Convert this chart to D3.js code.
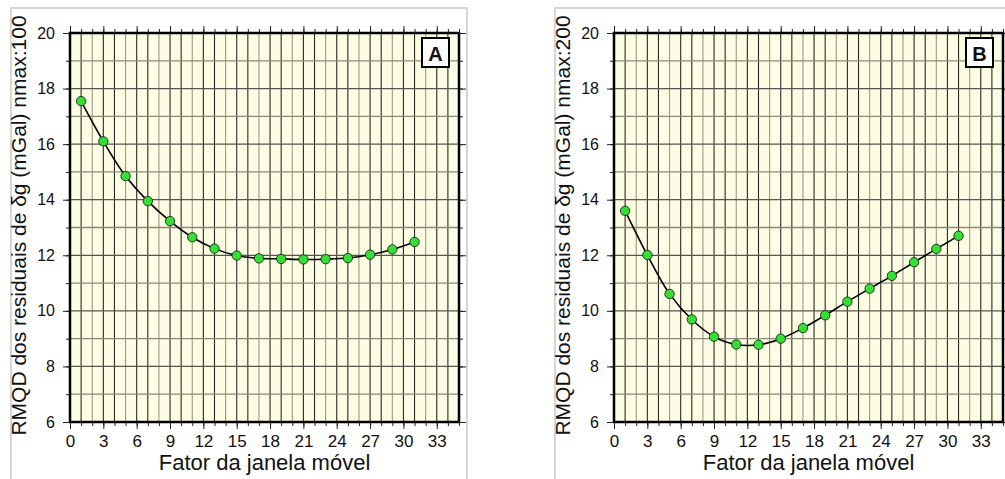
<!DOCTYPE html>
<html>
<head>
<meta charset="utf-8">
<script src="https://cdn.jsdelivr.net/npm/d3@7"></script>
<style>
body { margin: 0; background: #fff; }
text { font-family: "Liberation Sans", Arial, sans-serif; fill: #111; }
</style>
</head>
<body>
<div id="chart"></div>
<script>
var windowFactor = [1, 3, 5, 7, 9, 11, 13, 15, 17, 19, 21, 23, 25, 27, 29, 31]
var rmsA = [17.55, 16.1, 14.85, 13.95, 13.23, 12.65, 12.24, 11.99, 11.89, 11.87, 11.85, 11.86, 11.9, 12.02, 12.21, 12.48]
var rmsB = [13.6, 12.01, 10.61, 9.69, 9.07, 8.79, 8.78, 9.0, 9.38, 9.84, 10.33, 10.8, 11.26, 11.75, 12.23, 12.7]
var xTicks = [0, 3, 6, 9, 12, 15, 18, 21, 24, 27, 30, 33]
var yTicks = [6, 8, 10, 12, 14, 16, 18, 20]
var yTitles = ["RMQD dos residuais de \u03b4g (mGal) nmax:100", "RMQD dos residuais de \u03b4g (mGal) nmax:200"]
var panelLetters = ["A", "B"]
var xTitle = "Fator da janela m\u00f3vel"

var width = 1005,
height = 479,
panelLeft = [11, 555],
panelWidth = 456,
plotOffset = 59,
plotWidth = 389,
plotTop = 33,
plotBottom = 422

var svg = d3.select("#chart").append("svg")
.attr("width", width)
.attr("height", height)

var yScale = d3.scaleLinear().domain([6, 20]).range([plotBottom, plotTop])

var line = d3.line()
.curve(d3.curveCatmullRom.alpha(0.5))

var series = [rmsA, rmsB]

series.forEach(function(values, p) {
  var px = panelLeft[p]
  var x0 = px + plotOffset
  var xScale = d3.scaleLinear().domain([0, 35]).range([x0, x0 + plotWidth])

  var g = svg.append("g").attr("class", "panel")

  g.append("rect")
  .attr("x", px)
  .attr("y", 8)
  .attr("width", panelWidth)
  .attr("height", 475)
  .attr("fill", "#fff")
  .attr("stroke", "#d6d6d6")
  .attr("stroke-width", 2)

  g.append("rect")
  .attr("x", x0)
  .attr("y", plotTop)
  .attr("width", plotWidth)
  .attr("height", plotBottom - plotTop)
  .attr("fill", "#fdfde4")

  // grid every unit
  g.selectAll(".vgrid")
  .data(d3.range(1, 35))
  .enter().append("line")
  .attr("class", "vgrid")
  .attr("x1", function(d) { return xScale(d) })
  .attr("x2", function(d) { return xScale(d) })
  .attr("y1", plotTop)
  .attr("y2", plotBottom)
  .attr("stroke", function(d) { return d % 3 == 2 ? "#9a9a86" : "#2a2a2a" })
  .attr("stroke-width", 1.1)

  g.selectAll(".hgrid")
  .data(d3.range(7, 20))
  .enter().append("line")
  .attr("class", "hgrid")
  .attr("x1", x0)
  .attr("x2", x0 + plotWidth)
  .attr("y1", function(d) { return yScale(d) })
  .attr("y2", function(d) { return yScale(d) })
  .attr("stroke", function(d) { return d % 2 == 0 ? "#555" : "#8a8a78" })
  .attr("stroke-width", 1.3)

  // axes with minor ticks
  var xMinor = d3.range(0, 36)
  var yMinor = d3.range(6, 21)

  g.append("g")
  .attr("transform", "translate(0," + plotBottom + ")")
  .call(d3.axisBottom(xScale).tickValues(xMinor).tickSize(4).tickFormat(""))
  g.append("g")
  .attr("transform", "translate(0," + plotBottom + ")")
  .call(d3.axisBottom(xScale).tickValues(xTicks).tickSize(7).tickPadding(5))
  .call(function(a) { a.selectAll("text").style("font-size", "17px").attr("dy", "0.78em") })

  g.append("g")
  .attr("transform", "translate(0," + plotTop + ")")
  .call(d3.axisTop(xScale).tickValues(xMinor).tickSize(4).tickFormat(""))
  g.append("g")
  .attr("transform", "translate(0," + plotTop + ")")
  .call(d3.axisTop(xScale).tickValues(xTicks).tickSize(7).tickFormat(""))

  g.append("g")
  .attr("transform", "translate(" + x0 + ",0)")
  .call(d3.axisLeft(yScale).tickValues(yMinor).tickSize(4).tickFormat(""))
  g.append("g")
  .attr("transform", "translate(" + x0 + ",0)")
  .call(d3.axisLeft(yScale).tickValues(yTicks).tickSize(7).tickPadding(8))
  .call(function(a) { a.selectAll("text").style("font-size", "16px") })

  g.append("g")
  .attr("transform", "translate(" + (x0 + plotWidth) + ",0)")
  .call(d3.axisRight(yScale).tickValues(yMinor).tickSize(4).tickFormat(""))
  g.append("g")
  .attr("transform", "translate(" + (x0 + plotWidth) + ",0)")
  .call(d3.axisRight(yScale).tickValues(yTicks).tickSize(7).tickFormat(""))

  g.selectAll(".domain").remove()
  g.selectAll(".tick line").attr("stroke", "#222")

  g.append("rect")
  .attr("x", x0)
  .attr("y", plotTop)
  .attr("width", plotWidth)
  .attr("height", plotBottom - plotTop)
  .attr("fill", "none")
  .attr("stroke", "#000")
  .attr("stroke-width", 2.5)

  var pts = windowFactor.map(function(f, i) { return [xScale(f), yScale(values[i])] })

  g.append("path")
  .attr("d", line(pts))
  .attr("fill", "none")
  .attr("stroke", "#000")
  .attr("stroke-width", 1.6)

  g.selectAll(".pt")
  .data(pts)
  .enter().append("circle")
  .attr("class", "pt")
  .attr("cx", function(d) { return d[0] })
  .attr("cy", function(d) { return d[1] })
  .attr("r", 4.7)
  .attr("fill", "#33e033")
  .attr("stroke", "#111")
  .attr("stroke-width", 0.8)

  // panel letter box
  var bx = x0 + plotWidth - 37
  g.append("rect")
  .attr("x", bx)
  .attr("y", plotTop + 5)
  .attr("width", 27)
  .attr("height", 29)
  .attr("fill", "#fff")
  .attr("stroke", "#000")
  .attr("stroke-width", 2)
  g.append("text")
  .attr("x", bx + 13.5)
  .attr("y", plotTop + 27.5)
  .attr("text-anchor", "middle")
  .style("font-size", "20px")
  .style("font-weight", "bold")
  .text(panelLetters[p])

  g.append("text")
  .attr("transform", "translate(" + (px + 15) + "," + ((plotTop + plotBottom) / 2 - 2) + ") rotate(-90)")
  .attr("text-anchor", "middle")
  .style("font-size", "21px")
  .text(yTitles[p])

  g.append("text")
  .attr("x", x0 + plotWidth / 2)
  .attr("y", 470)
  .attr("text-anchor", "middle")
  .style("font-size", "22px")
  .text(xTitle)
})
</script>
</body>
</html>
